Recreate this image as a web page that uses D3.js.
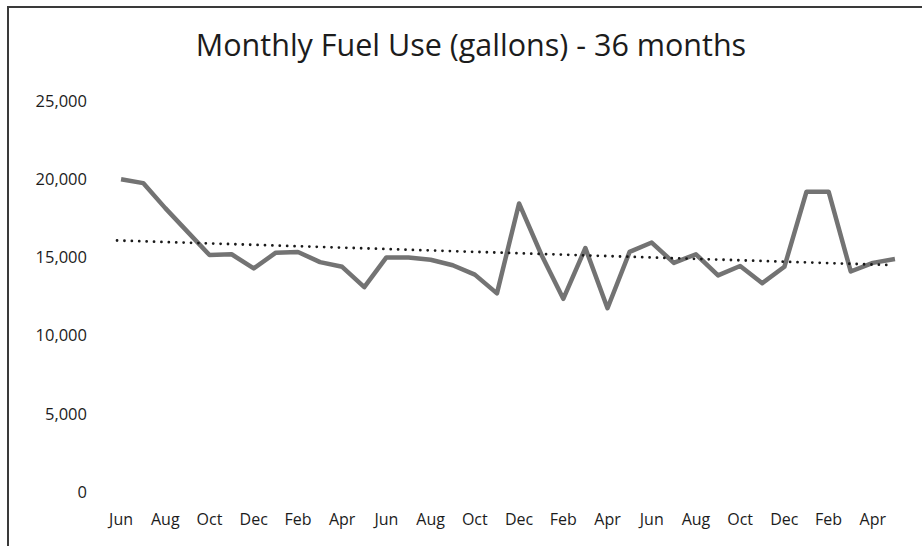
<!DOCTYPE html>
<html lang="en">
<head>
    <meta charset="utf-8">
    <title>Monthly Fuel Use</title>
    <style>
        body { margin: 0; background: #fff; }
        svg { display: block; font-family: "Open Sans", sans-serif; }
    </style>
</head>
<body>
    <svg id="chart" width="922" height="546"></svg>
</body>
<script src="https://d3js.org/d3.v7.min.js"></script>
<script>
    // 36 months, Jun through May (x3)
    const MONTHS = ["Jun","Jul","Aug","Sep","Oct","Nov","Dec","Jan","Feb","Mar","Apr","May"]
    const months = d3.range(36).map(i => MONTHS[i % 12])
    const gallons = [
        20000, 19750, 18150, 16650, 15150, 15200, 14300, 15300, 15350, 14700, 14400, 13100,
        15000, 15000, 14850, 14500, 13900, 12700, 18450, 15200, 12350, 15600, 11750, 15350,
        15950, 14650, 15200, 13850, 14450, 13350, 14400, 19200, 19200, 14100, 14650, 14900
    ]
    const yTicks = [0, 5000, 10000, 15000, 20000, 25000]

    const svg = d3.select("#chart")
    const margin = {left: 110, right: 16, top: 101, bottom: 54}
    const width = 922 - margin.left - margin.right
    const height = 546 - margin.top - margin.bottom

    // scanned-page frame
    svg.append("path")
        .attr("d", "M8,546 L8,7 L922,7")
        .attr("fill", "none")
        .attr("stroke", "#3a3a3a")
        .attr("stroke-width", 2)

    svg.append("text")
        .attr("x", 471)
        .attr("y", 56)
        .attr("text-anchor", "middle")
        .attr("font-size", 30.5)
        .attr("fill", "#1c1c1c")
        .text("Monthly Fuel Use (gallons) - 36 months")

    let x = d3.scaleBand()
        .domain(d3.range(36))
        .range([margin.left, margin.left + width])

    let y = d3.scaleLinear()
        .domain([0, 25000])
        .range([margin.top + height, margin.top])

    let xAxis = d3.axisBottom(x)
        .tickValues(d3.range(0, 36, 2))
        .tickFormat(i => months[i])
        .tickSize(0)
        .tickPadding(22)
    let gx = svg.append("g")
        .attr("transform", `translate(0, ${margin.top + height})`)
        .call(xAxis)
    gx.select(".domain").remove()
    gx.selectAll("text")
        .attr("font-size", 16)
        .attr("font-family", "Open Sans, sans-serif")
        .attr("fill", "#1c1c1c")

    let yAxis = d3.axisLeft(y)
        .tickValues(yTicks)
        .tickFormat(d3.format(","))
        .tickSize(0)
        .tickPadding(0)
    let gy = svg.append("g")
        .attr("transform", "translate(87, 0)")
        .call(yAxis)
    gy.select(".domain").remove()
    gy.selectAll("text")
        .attr("font-size", 16.5)
        .attr("font-family", "Open Sans, sans-serif")
        .attr("fill", "#1c1c1c")

    let cx = i => x(i) + x.bandwidth() / 2

    let line = d3.line()
        .x((d, i) => cx(i))
        .y(d => y(d))

    svg.append("path")
        .datum(gallons)
        .attr("fill", "none")
        .attr("stroke", "#737373")
        .attr("stroke-width", 4.5)
        .attr("stroke-linejoin", "round")
        .attr("d", line)

    // linear trendline (least squares)
    let n = gallons.length
    let mx = d3.mean(d3.range(n))
    let my = d3.mean(gallons)
    let slope = d3.sum(gallons, (d, i) => (i - mx) * (d - my)) / d3.sum(d3.range(n), i => (i - mx) ** 2)
    let icpt = my - slope * mx
    let trend = [0, n - 1].map(i => ({i: i, v: icpt + slope * i}))

    svg.append("path")
        .datum(trend)
        .attr("fill", "none")
        .attr("stroke", "#1a1a1a")
        .attr("stroke-width", 2.8)
        .attr("stroke-linecap", "round")
        .attr("stroke-dasharray", "0,7.4")
        .attr("d", d3.line().x(d => cx(d.i) - 4).y(d => y(d.v)))
</script>
</html>
